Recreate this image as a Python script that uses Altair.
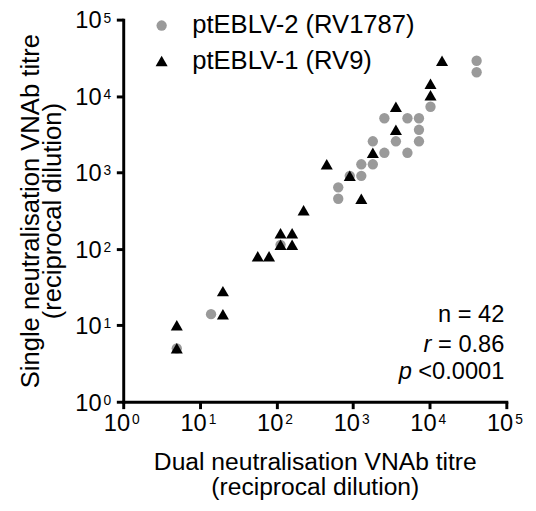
import altair as alt
import pandas as pd

FONT = "Liberation Sans"
W, H = 389, 388

series_names = ["ptEBLV-2 (RV1787)", "ptEBLV-1 (RV9)"]
series_colors = ["#9a9a9a", "#000000"]
series_shapes = ["circle", "triangle-up"]

# ptEBLV-2 (RV1787): dual vs single titres
ebl2_dual = [5, 14, 113, 640, 640, 905, 1280, 1280, 1810, 1810, 2560, 2560, 3620,
             5120, 5120, 7241, 7241, 7241, 10240, 40960, 40960]
ebl2_single = [5, 14, 113, 640, 453, 905, 905, 1280, 1280, 2560, 5120, 1810, 2560,
               5120, 1810, 5120, 3620, 2560, 7241, 28963, 20480]

# ptEBLV-1 (RV9): dual vs single titres
ebl1_dual = [5, 5, 20, 20, 57, 80, 113, 160, 113, 160, 226, 453, 905, 1280, 1810,
             3620, 3620, 10240, 10240, 14482]
ebl1_single = [10, 5, 14, 28, 80, 80, 113, 113, 160, 160, 320, 1280, 905, 453, 1810,
               3620, 7241, 10240, 14482, 28963]

tick_values = [1, 10, 100, 1000, 10000, 100000]
tick_base = ["10"] * 6
tick_exp = ["0", "1", "2", "3", "4", "5"]

x_title = ["Dual neutralisation VNAb titre", "(reciprocal dilution)"]
y_title = ["Single neutralisation VNAb titre", "(reciprocal dilution)"]

stat_main = ["n = 42", "= 0.86", "<0.0001"]
stat_italic = ["", "r", "p"]

df_pts = pd.DataFrame({
    "dual": ebl2_dual + ebl1_dual,
    "single": ebl2_single + ebl1_single,
    "series": [series_names[0]] * len(ebl2_dual) + [series_names[1]] * len(ebl1_dual),
})
df_ticks = pd.DataFrame({"v": tick_values, "base": tick_base, "exp": tick_exp})

xscale = alt.Scale(type="log", domain=[1, 100000], nice=False)
yscale = alt.Scale(type="log", domain=[1, 100000], nice=False)

axis_common = dict(values=tick_values, labels=False, grid=False, tickSize=7, tickWidth=3,
                   domainWidth=3, domainColor="black", tickColor="black", domainCap="square",
                   titleFont=FONT, titleFontWeight="normal", titleColor="black")

x_axis = alt.Axis(title=x_title, titleFontSize=25, titleLineHeight=25, titleX=W / 2, titleY=49,
                  titleBaseline="top", titleAlign="center", **axis_common)
y_axis = alt.Axis(title=y_title, titleFontSize=26, titleLineHeight=22, titleX=-107, titleY=H / 2,
                  titleAngle=270, titleBaseline="top", titleAlign="center", **axis_common)

leg = alt.Legend(title=None, orient="none", legendX=26, legendY=-7, labelFont=FONT,
                 labelFontSize=26, labelColor="black", symbolSize=100, rowPadding=10,
                 labelOffset=18, padding=0, symbolStrokeWidth=0, labelLimit=0)

points = alt.Chart(df_pts).mark_point(filled=True, opacity=1, strokeWidth=0).encode(
    x=alt.X("dual:Q", scale=xscale, axis=x_axis),
    y=alt.Y("single:Q", scale=yscale, axis=y_axis),
    color=alt.Color("series:N", scale=alt.Scale(domain=series_names, range=series_colors), legend=leg),
    shape=alt.Shape("series:N", scale=alt.Scale(domain=series_names, range=series_shapes), legend=leg),
    size=alt.Size("series:N", scale=alt.Scale(domain=series_names, range=[110, 150]), legend=None),
)

txt = dict(font=FONT, color="black")

xt_base = alt.Chart(df_ticks).mark_text(align="right", baseline="top", dx=7, dy=11, fontSize=24, **txt).encode(
    x=alt.X("v:Q", scale=xscale, axis=x_axis), y=alt.value(H), text="base:N")
xt_exp = alt.Chart(df_ticks).mark_text(align="left", baseline="top", dx=9, dy=12, fontSize=14, **txt).encode(
    x=alt.X("v:Q", scale=xscale, axis=x_axis), y=alt.value(H), text="exp:N")
yt_base = alt.Chart(df_ticks).mark_text(align="right", baseline="middle", dy=2, fontSize=24, **txt).encode(
    y=alt.Y("v:Q", scale=yscale, axis=y_axis), x=alt.value(-22), text="base:N")
yt_exp = alt.Chart(df_ticks).mark_text(align="left", baseline="top", dy=-8, fontSize=14, **txt).encode(
    y=alt.Y("v:Q", scale=yscale, axis=y_axis), x=alt.value(-20), text="exp:N")

stat_y = [300, 330, 358]
stat_italic_x = [0, 313, 293]
stat_layers = []
for i in range(3):
    stat_layers.append(
        alt.Chart(pd.DataFrame({"t": [stat_main[i]]})).mark_text(
            align="right", baseline="middle", fontSize=24, **txt).encode(
            x=alt.value(387), y=alt.value(stat_y[i]), text="t:N"))
    if stat_italic[i]:
        stat_layers.append(
            alt.Chart(pd.DataFrame({"t": [stat_italic[i]]})).mark_text(
                align="right", baseline="middle", fontSize=24, fontStyle="italic", **txt).encode(
                x=alt.value(stat_italic_x[i]), y=alt.value(stat_y[i]), text="t:N"))

chart = alt.layer(points, xt_base, xt_exp, yt_base, yt_exp, *stat_layers).properties(
    width=W, height=H,
    padding={"left": 117, "top": 8, "right": 22, "bottom": 99},
    autosize=alt.AutoSizeParams(type="none"),
    background="white",
).configure_view(stroke=None)

chart.save("out.html", embed_options={"renderer": "svg", "actions": False})
